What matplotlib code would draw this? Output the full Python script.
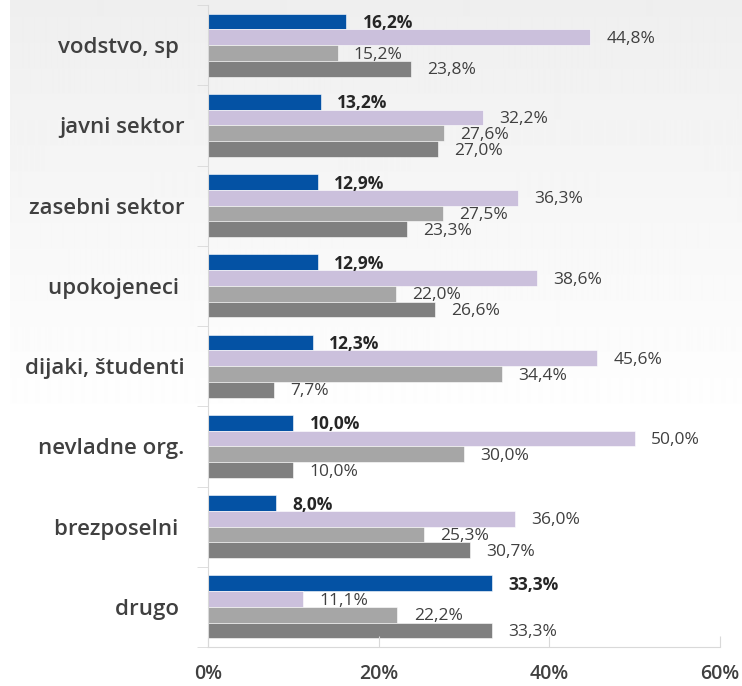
import numpy as np
import matplotlib; matplotlib.use("Agg")
import matplotlib.pyplot as plt
from matplotlib.ticker import FuncFormatter

categories = ["vodstvo, sp ", "javni sektor", "zasebni sektor", "upokojeneci ",
              "dijaki, študenti", "nevladne org.", "brezposelni ", "drugo "]
s1 = [16.2, 13.2, 12.9, 12.9, 12.3, 10.0, 8.0, 33.3]
s2 = [44.8, 32.2, 36.3, 38.6, 45.6, 50.0, 36.0, 11.1]
s3 = [15.2, 27.6, 27.5, 22.0, 34.4, 30.0, 25.3, 22.2]
s4 = [23.8, 27.0, 23.3, 26.6, 7.7, 10.0, 30.7, 33.3]
series = [s1, s2, s3, s4]
colors = ["#0452A4", "#CBC0DC", "#A6A6A6", "#808080"]
xticks = [0, 20, 40, 60]

plt.rcParams["font.family"] = ["Open Sans", "DejaVu Sans"]
txt = "#404040"

fig = plt.figure(figsize=(7.42, 6.86), dpi=100)
fig.patch.set_facecolor("white")

# background gradient (light grey top -> white), thin white strip on the left
bg = fig.add_axes([10 / 742, 0, 1 - 10 / 742, 1], zorder=0)
rows = np.linspace(0, 1, 686)
shade = np.where(rows < 430 / 686, 0.935 + (1 - 0.935) * rows / (430 / 686), 1.0)
bg.imshow(np.repeat(shade[:, None], 2, axis=1), cmap="gray", vmin=0, vmax=1,
          aspect="auto", interpolation="bilinear")
bg.axis("off")

ax = fig.add_axes([208 / 742, 1 - 647 / 686, (720 - 208) / 742, (647 - 5) / 686], zorder=1)
ax.patch.set_alpha(0)

n = len(categories)
h = 0.196
for i, vals in enumerate(series):
    y = np.arange(n) + (i - 1.5) * h
    ax.barh(y, vals, height=h, color=colors[i], edgecolor="white", linewidth=0.4)
    for yy, v in zip(y, vals):
        ax.text(v + 1.9, yy + 0.02, f"{v:.1f}%".replace(".", ","), va="center", ha="left",
                fontsize=12.5, color=txt if i else "#262626",
                fontweight="bold" if i == 0 else "normal")

ax.set_xlim(0, 60)
ax.set_ylim(n - 0.5, -0.5)
ax.set_xticks(xticks)
ax.xaxis.set_major_formatter(FuncFormatter(lambda v, p: f"{v:.0f}%"))
ax.tick_params(axis="x", direction="in", length=8, color="#D9D9D9", pad=12,
               labelsize=14, labelcolor=txt)
ax.set_yticks(np.arange(n))
ax.set_yticklabels(categories, fontsize=16, color=txt, fontweight="semibold")
ax.tick_params(axis="y", length=0, pad=17)
ax.set_yticks(np.arange(n + 1) - 0.5, minor=True)
ax.tick_params(axis="y", which="minor", length=8, color="#D9D9D9", direction="out")
for lbl in ax.get_xticklabels():
    lbl.set_fontweight("semibold")

for s in ["top", "right"]:
    ax.spines[s].set_visible(False)
for s in ["left", "bottom"]:
    ax.spines[s].set_color("#D9D9D9")

plt.savefig("out.png", dpi=100)
